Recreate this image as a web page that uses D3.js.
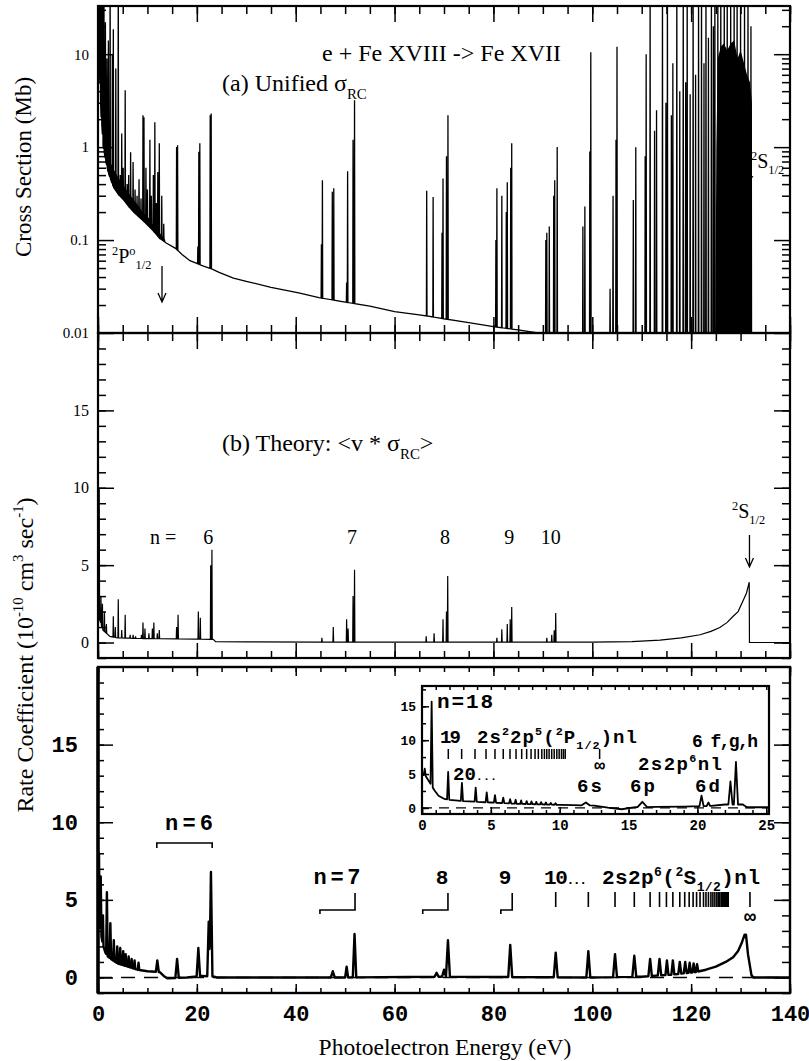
<!DOCTYPE html>
<html>
<head>
<meta charset="utf-8">
<script src="https://cdn.jsdelivr.net/npm/d3@7"></script>
<style>
  html, body { margin: 0; padding: 0; background: #fff; }
  .serif { font-family: "Liberation Serif", "Times New Roman", serif; }
  .mono { font-family: "Liberation Mono", "Courier New", monospace; font-weight: bold; }
</style>
</head>
<body>
<svg id="chart" width="809" height="1061"></svg>
<script>
// ---------- data ----------

// tick values
const energyMajor = [0, 20, 40, 60, 80, 100, 120, 140];
const energyMinor = d3.range(0, 141, 5);
const crossMajor = [0.01, 0.1, 1, 10];
const rateMajor = [0, 5, 10, 15];
const insetXMajor = [0, 5, 10, 15, 20, 25];
const insetYMajor = [0, 5, 10, 15];

// (a) unified recombination cross section, Mb: smooth background [E, sigma]
const crossBackground = [
  [0.05, 60], [0.3, 6], [0.6, 2.2], [1.0, 1.05], [1.5, 0.72], [2.1, 0.52], [3.1, 0.37],
  [4.1, 0.31], [5.2, 0.27], [6.2, 0.23], [7.2, 0.2], [8.3, 0.177], [10.0, 0.145],
  [11.2, 0.125], [12.4, 0.105], [13.8, 0.093], [15.6, 0.082], [17.0, 0.07], [18.6, 0.06],
  [20.0, 0.056], [21.5, 0.052], [23.0, 0.049], [24.5, 0.045], [27.4, 0.039], [30, 0.036],
  [35, 0.031], [40.6, 0.027], [44.7, 0.024], [50, 0.0215], [55, 0.0195], [60, 0.017],
  [65, 0.0157], [70, 0.0142], [75, 0.0129], [80, 0.0117], [85, 0.0108], [89, 0.0100],
  [95, 0.0092], [105, 0.0080], [120, 0.0065], [140, 0.0050]
];
// (a) resonances [E, peak sigma]
const crossPeaks = [
  [0.2, 90], [0.45, 90], [0.7, 90], [0.95, 45], [1.2, 90], [1.5, 22], [1.8, 9], [2.1, 14],
  [2.45, 90], [2.9, 10], [3.1, 18.6], [3.6, 7], [4.1, 90], [4.5, 0.5], [4.8, 1.4], [5.1, 0.6],
  [5.5, 4.1], [5.9, 0.4], [6.2, 0.5], [6.6, 0.88], [7.1, 0.69], [7.5, 0.35], [7.9, 0.3],
  [8.3, 0.45], [8.7, 0.28], [9.1, 2.2], [9.3, 2.1], [9.7, 0.6], [10.0, 0.35], [10.5, 1.2],
  [10.8, 0.3], [11.2, 0.5], [11.5, 1.85], [11.8, 0.25], [12.1, 0.54], [12.4, 1.1], [12.9, 0.3],
  [13.3, 0.15],
  [15.9, 1.0], [16.1, 1.05],
  [20.2, 0.085], [20.4, 0.89], [20.6, 1.1], [22.7, 2.2], [22.9, 2.3],
  [45.2, 0.09], [45.4, 0.44], [47.4, 0.33], [47.7, 0.36], [50.3, 0.035], [50.5, 0.55],
  [51.6, 1.2], [51.9, 3.2],
  [66.5, 0.34], [67.8, 0.29], [69.6, 0.12], [69.8, 0.46], [70.5, 0.8], [70.8, 2.2],
  [80.5, 0.1], [80.7, 0.36], [81.7, 0.3], [82.6, 0.2], [82.8, 0.42], [83.5, 0.6], [83.7, 1.1],
  [90.6, 0.1], [90.8, 0.12], [91.3, 0.14], [92.2, 0.3], [92.4, 0.44], [92.9, 1.0],
  [98.1, 0.14], [98.5, 0.23], [99.5, 0.9], [99.7, 10.5],
  [103.6, 0.03], [104.2, 0.3], [104.8, 1.2], [105.0, 12],
  [108.3, 0.27], [108.8, 1.0], [110.7, 0.8], [110.9, 10],
  [111.7, 90], [112.6, 1.5], [113.0, 2.5], [114.2, 90], [114.9, 3], [115.2, 90], [116.0, 2.2],
  [116.3, 8], [117.1, 90], [117.7, 4], [118.4, 90], [118.9, 5], [119.2, 90], [119.8, 3.7],
  [120.4, 90], [120.9, 6], [121.5, 90], [122.1, 90], [122.6, 8], [123.0, 90], [123.5, 15],
  [124.1, 90], [124.5, 20], [124.8, 90],
  [125.4, 90], [126.0, 90], [126.7, 90], [127.3, 90], [128.0, 90], [128.7, 90], [129.3, 90],
  [130.0, 90], [130.8, 90], [131.5, 90], [132.1, 20]
];
// (a) unresolved resonance clusters: upper envelope [E, sigma]
const crossThresholdBand = [
  [2.0, 0.8], [3.0, 0.6], [4.0, 0.48], [5.0, 0.4], [6.0, 0.33], [7.0, 0.28], [8.0, 0.24],
  [9.0, 0.2], [10.0, 0.18], [11.0, 0.15], [12.0, 0.13], [13.0, 0.11], [13.6, 0.1]
];
const crossEdgeBand = [
  [124.9, 0.011], [125.1, 1.0], [125.4, 9], [126.0, 12], [126.6, 13], [127.3, 11], [128.0, 13],
  [128.7, 14], [129.4, 9], [130.0, 11], [130.7, 8], [131.3, 6], [131.9, 5], [132.3, 3], [132.35, 0.011]
];

// (b) theoretical rate coefficient, 1e-10 cm^3/s
const theoryBackground = [
  [0.0, 3.2], [0.3, 1.5], [1.0, 0.8], [2.4, 0.4], [4.0, 0.3], [10, 0.25], [20, 0.22],
  [23.3, 0.2], [23.8, 0.05], [30, 0.04], [45, 0.03], [60, 0.02],
  [90, 0.02], [100, 0.03], [108, 0.06], [113.7, 0.15], [118, 0.3], [121.8, 0.5], [124, 0.72],
  [125.8, 0.97], [127.3, 1.3], [128.5, 1.7], [129.5, 2.0], [130.5, 2.7], [131.2, 3.2],
  [131.75, 3.9], [131.8, 0.0], [140, 0.0]
];
const theoryPeaks = [
  [0.25, 10], [0.6, 3.0], [0.9, 2.5], [1.3, 2.0], [1.7, 1.2], [3.1, 1.7], [3.5, 1.0], [4.1, 2.8],
  [4.8, 0.8], [5.5, 1.8], [6.5, 0.5], [7.1, 0.5], [7.6, 0.4], [8.8, 0.5], [9.1, 1.3], [9.5, 0.9],
  [10.3, 0.6], [11.0, 0.9], [11.3, 1.3], [12.0, 0.6], [12.4, 0.8],
  [15.9, 1.0], [16.2, 1.8], [20.3, 2.0], [20.7, 1.6], [22.8, 5.0], [23.05, 6.0],
  [45.3, 0.3], [47.6, 1.0], [50.3, 1.5], [50.6, 0.9], [51.6, 3.0], [51.9, 4.7],
  [66.4, 0.4], [68.0, 0.6], [69.8, 1.5], [70.5, 2.0], [70.75, 4.3],
  [80.7, 0.3], [81.7, 0.85], [82.8, 1.2], [83.4, 1.5], [83.7, 2.3],
  [90.8, 0.3], [91.8, 0.5], [92.3, 0.8], [92.6, 1.9]
];

// (c) measured rate coefficient: background and peaks [E, top, half width]
const expBackground = [
  [0.0, 4.0], [0.5, 3.0], [1.0, 2.1], [1.5, 1.6], [2.0, 1.35], [3.0, 1.1], [4.0, 0.9], [5.0, 0.8],
  [6.0, 0.7], [8.0, 0.5], [10.0, 0.4], [12.5, 0.35], [13.3, 0.1], [14.0, -0.05], [18.0, 0.0],
  [21.0, 0.1], [23.5, 0.05], [24.0, 0.0], [50, 0.0], [70, 0.05], [100, 0.0], [110, 0.05],
  [113, 0.12], [116, 0.18], [119, 0.28], [121, 0.35], [123, 0.5], [125, 0.7], [127, 1.0],
  [128.5, 1.3], [129.5, 1.7], [130.2, 2.2], [130.8, 2.75], [131.1, 2.75], [131.5, 1.5],
  [132.2, 0.15], [132.6, 0.0], [140, 0.0]
];
const expPeaks = [
  [0.2, 8.0, 0.15], [0.55, 6.5, 0.15], [1.0, 4.0, 0.12], [1.8, 5.5, 0.15], [2.5, 3.5, 0.15],
  [3.2, 2.4, 0.15], [3.9, 2.0, 0.15], [4.5, 1.9, 0.15], [5.1, 1.7, 0.15], [5.6, 1.5, 0.15],
  [6.2, 1.35, 0.15], [6.8, 1.2, 0.15], [7.4, 1.1, 0.15], [8.2, 0.95, 0.15],
  [12.0, 1.1, 0.3], [16.0, 1.2, 0.35], [20.3, 1.9, 0.35], [22.4, 3.6, 0.3], [22.85, 6.8, 0.3],
  [47.5, 0.4, 0.4], [50.3, 0.7, 0.3], [51.9, 2.8, 0.35], [68.5, 0.3, 0.4], [70.0, 0.5, 0.4],
  [70.8, 2.4, 0.4], [83.4, 2.1, 0.4], [92.6, 1.6, 0.4], [99.2, 1.7, 0.4], [104.6, 1.5, 0.4],
  [108.5, 1.4, 0.4], [111.7, 1.2, 0.35], [113.6, 1.2, 0.35], [115.1, 1.1, 0.3], [116.3, 1.1, 0.3],
  [117.7, 1.0, 0.3], [118.8, 1.0, 0.3], [119.7, 0.95, 0.25], [120.5, 0.9, 0.25], [121.2, 0.85, 0.25]
];
// 2s2p6(2S1/2)nl series positions, n = 10 ... and limit
const seriesMain = [
  92.6, 99.2, 104.6, 108.5, 111.7, 113.6, 115.0, 116.3, 117.7, 118.7, 119.6, 120.4, 121.1,
  121.8, 122.5, 123.0, 123.5, 124.0, 124.4, 124.8, 125.2, 125.5, 125.8, 126.1, 126.4, 126.6,
  126.8, 127.0, 127.2, 127.4, 127.5
];
const seriesMainLimit = 131.9;

// inset: low-energy detail of (c)
const insetBackground = [
  [0.0, 5.0], [0.3, 4.6], [0.55, 3.8], [0.9, 2.6], [1.2, 1.8], [1.6, 1.35], [2.0, 1.2], [3.0, 1.0],
  [4.0, 0.9], [5.0, 0.8], [6.0, 0.7], [7.0, 0.6], [8.0, 0.55], [9.0, 0.5], [10.0, 0.45],
  [11.0, 0.4], [12.5, 0.35], [13.5, 0.05], [14.5, -0.2], [15.5, 0.1], [17.0, 0.15], [19.0, 0.2],
  [21.0, 0.3], [22.0, 0.5], [23.3, 0.5], [23.6, 0.1], [25.2, 0.1]
];
const insetPeaks = [
  [0.2, 5.8, 0.08], [0.7, 15.7, 0.08], [1.9, 5.3, 0.08], [2.9, 3.7, 0.08], [3.9, 3.0, 0.08],
  [4.7, 2.3, 0.08], [5.3, 1.9, 0.08], [5.9, 1.5, 0.08], [6.4, 1.3, 0.08], [6.8, 1.2, 0.07],
  [7.2, 1.1, 0.07], [7.6, 1.0, 0.07], [7.95, 0.95, 0.07], [8.3, 0.9, 0.07], [8.65, 0.85, 0.07],
  [9.0, 0.8, 0.07], [9.35, 0.75, 0.07], [9.7, 0.7, 0.07],
  [11.9, 0.8, 0.3], [16.0, 0.9, 0.35], [20.3, 1.8, 0.15], [20.8, 0.8, 0.12],
  [22.4, 3.9, 0.15], [22.8, 6.8, 0.15]
];
// 2s2 2p5(2P1/2)nl series positions, n = 19 ... and limit
const seriesInset = [
  1.91, 2.88, 3.85, 4.65, 5.3, 5.9, 6.39, 6.83, 7.24, 7.6, 7.92, 8.21, 8.45, 8.7, 8.89, 9.06,
  9.23, 9.42, 9.6, 9.79, 9.96, 10.13, 10.27, 10.4
];
const seriesInsetLimit = 12.9;

// ---------- scales ----------
const svg = d3.select('#chart');
const L = 98, R = 790;
const x = d3.scaleLinear().domain([0, 140]).range([L, R]);
const yA = d3.scaleLog().domain([0.01, 33]).range([333, 6]);
const yB = d3.scaleLinear().domain([-1, 20]).range([658, 333]);
const yC = d3.scaleLinear().domain([-1, 20]).range([993, 667]);
const xI = d3.scaleLinear().domain([0, 25.2]).range([422, 769]);
const yI = d3.scaleLinear().domain([-0.9, 18]).range([814, 686]);

// ---------- helpers ----------

// Linear lookup of a background curve at energy e.
function valueAt(bg, e) {
  const i = d3.bisector(d => d[0]).right(bg, e);
  if (i <= 0) return bg[0][1];
  if (i >= bg.length) return bg[bg.length - 1][1];
  const [e0, v0] = bg[i - 1], [e1, v1] = bg[i];
  return v0 + (e - e0) / (e1 - e0) * (v1 - v0);
}

// Build a trace: background with triangular resonance profiles added on top.
function spectrum(bg, peaks, width) {
  const es = bg.map(d => d[0]);
  peaks.forEach(p => { const w = p[2] || width; es.push(p[0] - w, p[0], p[0] + w); });
  es.sort(d3.ascending);
  return es.map(e => {
    let v = valueAt(bg, e);
    peaks.forEach(p => {
      const w = p[2] || width;
      const d = Math.abs(e - p[0]);
      if (d < w) v += Math.max(0, p[1] - valueAt(bg, p[0])) * (1 - d / w);
    });
    return [e, v];
  });
}

// Text with superscripts / subscripts. parts: 'text' or ['text', 'sup'|'sub'|'small'].
// An optional width stretches or squeezes the letter spacing to that length.
function rich(g, px, py, parts, cls, size, anchor, width) {
  const t = g.append('text').attr('x', px).attr('y', py).attr('class', cls)
    .attr('font-size', size).attr('text-anchor', anchor || 'start');
  let shift = 0;
  parts.forEach(p => {
    const [str, kind] = typeof p === 'string' ? [p, null] : p;
    const target = kind === 'sup' ? -0.4 * size : kind === 'sub' ? 0.32 * size : 0;
    t.append('tspan').attr('dy', target - shift)
      .attr('font-size', kind ? size * 0.62 : size).text(str);
    shift = target;
  });
  if (width) t.attr('textLength', width).attr('lengthAdjust', 'spacing');
  return t;
}

// Axis ticks (inward), optional labels.
function ticks(g, axisGen, scale, pos, values, size, label, cls, fontSize, pad) {
  const axis = axisGen(scale).tickValues(values).tickSize(-size)
    .tickPadding(pad || 8).tickFormat(label || '');
  const a = g.append('g').attr('transform', pos).call(axis);
  a.select('.domain').remove();
  a.selectAll('.tick line').attr('stroke', '#000').attr('stroke-width', 1.5);
  a.attr('font-family', null).attr('font-size', fontSize || 16);
  a.selectAll('.tick text').attr('class', cls || 'serif').attr('fill', '#000');
  return a;
}

function arrowDown(g, ax, y0, y1) {
  g.append('path')
    .attr('d', `M${ax},${y0}V${y1}M${ax - 4},${y1 - 9}L${ax},${y1}L${ax + 4},${y1 - 9}`)
    .attr('fill', 'none').attr('stroke', '#000').attr('stroke-width', 1.3);
}

const defs = svg.append('defs');
function clip(id, x0, y0, x1, y1) {
  defs.append('clipPath').attr('id', id).append('rect')
    .attr('x', x0).attr('y', y0).attr('width', x1 - x0).attr('height', y1 - y0);
}
clip('clipA', L, 6, R, 333);
clip('clipB', L, 333, R, 658);
clip('clipC', L, 667, R, 993);
clip('clipI', 422, 686, 769, 814);

// ---------- panel (a): cross section, log scale ----------
const gA = svg.append('g');
const dataA = gA.append('g').attr('clip-path', 'url(#clipA)');

dataA.append('path')
  .datum(crossThresholdBand)
  .attr('d', d3.area().x(d => x(d[0])).y0(d => yA(valueAt(crossBackground, d[0]))).y1(d => yA(d[1])))
  .attr('fill', '#000');
dataA.append('path')
  .datum(crossEdgeBand)
  .attr('d', d3.area().x(d => x(d[0])).y0(yA(0.01)).y1(d => yA(d[1])))
  .attr('fill', '#000');
dataA.append('path')
  .datum(spectrum(crossBackground, crossPeaks, 0.06))
  .attr('d', d3.line().x(d => x(d[0])).y(d => yA(Math.max(d[1], 1e-4))))
  .attr('fill', 'none').attr('stroke', '#000').attr('stroke-width', 1.3);

const crossMinor = crossMajor.flatMap(m => d3.range(2, 10).map(k => k * m)).filter(v => v < 33);
ticks(gA, d3.axisLeft, yA, `translate(${L},0)`, crossMajor, 16, d => String(d), 'serif', 15, 9);
ticks(gA, d3.axisLeft, yA, `translate(${L},0)`, crossMinor, 8);
ticks(gA, d3.axisRight, yA, `translate(${R},0)`, crossMajor, 16);
ticks(gA, d3.axisRight, yA, `translate(${R},0)`, crossMinor, 8);
ticks(gA, d3.axisTop, x, 'translate(0,6)', energyMajor, 16);
ticks(gA, d3.axisTop, x, 'translate(0,6)', energyMinor, 8);
ticks(gA, d3.axisBottom, x, 'translate(0,333)', energyMajor, 16);
ticks(gA, d3.axisBottom, x, 'translate(0,333)', energyMinor, 8);

rich(gA, 322, 61, ['e + Fe XVIII -> Fe XVII'], 'serif', 24);
rich(gA, 222, 91, ['(a) Unified ', 'σ', ['RC', 'sub']], 'serif', 24);
rich(gA, 112, 263, [['2', 'sup'], 'P', ['o', 'sup'], ['1/2', 'sub']], 'serif', 20);
arrowDown(gA, 162, 266, 302);
rich(gA, 751, 168, [['2', 'sup'], 'S', ['1/2', 'sub']], 'serif', 20);
gA.append('line').attr('x1', 748).attr('y1', 184).attr('x2', 753).attr('y2', 176)
  .attr('stroke', '#000').attr('stroke-width', 1);

// ---------- panel (b): theoretical rate coefficient ----------
const gB = svg.append('g');
const dataB = gB.append('g').attr('clip-path', 'url(#clipB)');
dataB.append('path')
  .datum(spectrum(theoryBackground, theoryPeaks, 0.07))
  .attr('d', d3.line().x(d => x(d[0])).y(d => yB(d[1])))
  .attr('fill', 'none').attr('stroke', '#000').attr('stroke-width', 1.2);

const rateMinor = d3.range(-1, 20, 1);
ticks(gB, d3.axisLeft, yB, `translate(${L},0)`, rateMajor, 16, d => String(d), 'serif', 16, 9);
ticks(gB, d3.axisLeft, yB, `translate(${L},0)`, rateMinor, 8);
ticks(gB, d3.axisRight, yB, `translate(${R},0)`, rateMajor, 16);
ticks(gB, d3.axisRight, yB, `translate(${R},0)`, rateMinor, 8);
ticks(gB, d3.axisTop, x, 'translate(0,333)', energyMajor, 16);
ticks(gB, d3.axisTop, x, 'translate(0,333)', energyMinor, 8);
ticks(gB, d3.axisBottom, x, 'translate(0,658)', energyMajor, 15);
ticks(gB, d3.axisBottom, x, 'translate(0,658)', energyMinor, 7);

rich(gB, 222, 451, ['(b) Theory: <v * ', 'σ', ['RC', 'sub'], '>'], 'serif', 24);
[['n =', 13.2], ['6', 22.3], ['7', 51.4], ['8', 70.2], ['9', 83.2], ['10', 91.6]].forEach(([s, e]) => {
  rich(gB, x(e), 544, [s], 'serif', 20, 'middle');
});
rich(gB, 732, 518, [['2', 'sup'], 'S', ['1/2', 'sub']], 'serif', 20);
arrowDown(gB, x(131.8), 535, 567);

// ---------- panel (c): measured rate coefficient ----------
const gC = svg.append('g');
const dataC = gC.append('g').attr('clip-path', 'url(#clipC)');
dataC.append('line').attr('x1', L).attr('x2', R).attr('y1', yC(0)).attr('y2', yC(0))
  .attr('stroke', '#000').attr('stroke-width', 1.5).attr('stroke-dasharray', '14,9');
dataC.append('path')
  .datum(spectrum(expBackground, expPeaks, 0.3))
  .attr('d', d3.line().x(d => x(d[0])).y(d => yC(d[1])))
  .attr('fill', 'none').attr('stroke', '#000').attr('stroke-width', 2.4).attr('stroke-linejoin', 'round');

ticks(gC, d3.axisLeft, yC, `translate(${L},0)`, rateMajor, 15, d => String(d), 'mono', 22, 20);
ticks(gC, d3.axisLeft, yC, `translate(${L},0)`, rateMinor, 6);
ticks(gC, d3.axisRight, yC, `translate(${R},0)`, rateMajor, 16);
ticks(gC, d3.axisRight, yC, `translate(${R},0)`, rateMinor, 8);
ticks(gC, d3.axisTop, x, 'translate(0,667)', energyMajor, 9);
ticks(gC, d3.axisTop, x, 'translate(0,667)', energyMinor, 5);
ticks(gC, d3.axisBottom, x, 'translate(0,993)', energyMajor, 9, d => String(d), 'mono', 22, 12);
ticks(gC, d3.axisBottom, x, 'translate(0,993)', energyMinor, 5);

// series labels and brackets
const ink = sel => sel.attr('fill', 'none').attr('stroke', '#000').attr('stroke-width', 1.6);
rich(gC, 189, 830, ['n=6'], 'mono', 22, 'middle', 48);
ink(gC.append('path').attr('d', `M${x(11.9)},848V843H${x(23.1)}V848`));
rich(gC, 337, 884, ['n=7'], 'mono', 22, 'middle', 47);
rich(gC, 442, 884, ['8'], 'mono', 21, 'middle');
rich(gC, 505, 884, ['9'], 'mono', 21, 'middle');
rich(gC, 544, 884, ['10', ['...', 'small']], 'mono', 21, 'start', 43);
rich(gC, 602, 884, ['2s2p', ['6', 'sup'], '(', ['2', 'sup'], 'S', ['1/2', 'sub'], ')nl'], 'mono', 21, 'start', 158);
[[44.9, 52.0], [65.7, 70.8], [81.5, 83.8]].forEach(([e0, e1]) => {
  ink(gC.append('path').attr('d', `M${x(e0)},914V910H${x(e1)}V893`));
});
seriesMain.concat([seriesMainLimit]).forEach(e => {
  gC.append('line').attr('x1', x(e)).attr('x2', x(e)).attr('y1', 892).attr('y2', 907)
    .attr('stroke', '#000').attr('stroke-width', 1.6);
});
rich(gC, x(seriesMainLimit), 923, ['∞'], 'mono', 20, 'middle');

// ---------- inset ----------
const gI = svg.append('g');
gI.append('rect').attr('x', 422).attr('y', 686).attr('width', 347).attr('height', 128).attr('fill', '#fff');
const dataI = gI.append('g').attr('clip-path', 'url(#clipI)');
dataI.append('line').attr('x1', 422).attr('x2', 769).attr('y1', yI(0)).attr('y2', yI(0))
  .attr('stroke', '#000').attr('stroke-width', 1.3).attr('stroke-dasharray', '10,7');
dataI.append('path')
  .datum(spectrum(insetBackground, insetPeaks, 0.08))
  .attr('d', d3.line().x(d => xI(d[0])).y(d => yI(d[1])))
  .attr('fill', 'none').attr('stroke', '#000').attr('stroke-width', 1.8).attr('stroke-linejoin', 'round');

ticks(gI, d3.axisLeft, yI, 'translate(422,0)', insetYMajor, 7, d => String(d), 'mono', 13, 6);
ticks(gI, d3.axisLeft, yI, 'translate(422,0)', d3.range(0, 18, 2.5), 4);
ticks(gI, d3.axisBottom, xI, 'translate(0,814)', insetXMajor, 7, d => String(d), 'mono', 14, 6);
ticks(gI, d3.axisBottom, xI, 'translate(0,814)', d3.range(0, 25.1, 1), 4);
ticks(gI, d3.axisTop, xI, 'translate(0,686)', d3.range(0, 25.1, 1), 4);
gI.append('rect').attr('x', 422).attr('y', 686).attr('width', 347).attr('height', 128)
  .attr('fill', 'none').attr('stroke', '#000').attr('stroke-width', 2.2);

rich(gI, 437, 708, ['n=18'], 'mono', 21, 'start', 56);
rich(gI, 440, 743, ['19'], 'mono', 19, 'start', 21);
rich(gI, 477, 743, ['2s', ['2', 'sup'], '2p', ['5', 'sup'], '(', ['2', 'sup'], 'P', ['1/2', 'sub'], ')nl'], 'mono', 19, 'start', 160);
seriesInset.concat([seriesInsetLimit]).forEach(e => {
  gI.append('line').attr('x1', xI(e)).attr('x2', xI(e)).attr('y1', 749).attr('y2', 759)
    .attr('stroke', '#000').attr('stroke-width', 1.5);
});
rich(gI, xI(seriesInsetLimit), 771, ['∞'], 'mono', 18, 'middle');
rich(gI, 453, 780, ['20', ['...', 'small']], 'mono', 19, 'start', 44);
rich(gI, 638, 770, ['2s2p', ['6', 'sup'], 'nl'], 'mono', 19, 'start', 84);
rich(gI, 692, 747, ['6 f,g,h'], 'mono', 18, 'start', 66);
rich(gI, 577, 792, ['6s'], 'mono', 19, 'start', 25);
rich(gI, 630, 792, ['6p'], 'mono', 19, 'start', 25);
rich(gI, 695, 792, ['6d'], 'mono', 19, 'start', 25);

// ---------- frames and axis titles ----------
const frameRect = (y0, y1, w) => svg.append('rect').attr('x', L).attr('y', y0)
  .attr('width', R - L).attr('height', y1 - y0).attr('fill', 'none')
  .attr('stroke', '#000').attr('stroke-width', w);
frameRect(6, 333, 2.2);
frameRect(333, 658, 2.2);
frameRect(667, 993, 2.4);
svg.append('line').attr('x1', L).attr('x2', L).attr('y1', 667).attr('y2', 993)
  .attr('stroke', '#000').attr('stroke-width', 3.5);

rich(svg.append('g').attr('transform', 'translate(31,167) rotate(-90)'), 0, 0,
  ['Cross Section (Mb)'], 'serif', 23, 'middle');
rich(svg.append('g').attr('transform', 'translate(33,655) rotate(-90)'), 0, 0,
  ['Rate Coefficient (10', ['-10', 'sup'], ' cm', ['3', 'sup'], ' sec', ['-1', 'sup'], ')'], 'serif', 24, 'middle');
rich(svg, 445, 1055, ['Photoelectron Energy (eV)'], 'serif', 23.5, 'middle');
</script>
</body>
</html>
